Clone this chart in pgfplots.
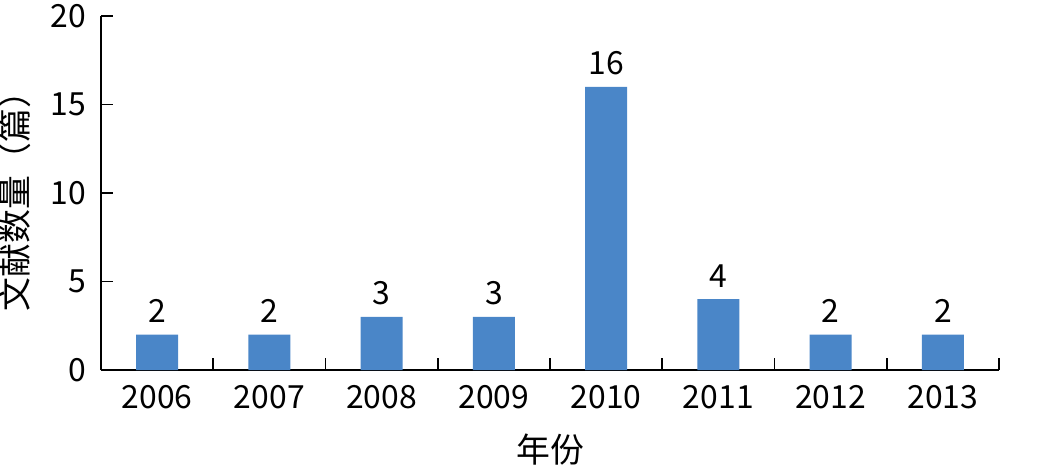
\documentclass[border=0pt]{standalone}
\usepackage{fontspec}
\setmainfont{Noto Sans CJK SC}
\usepackage{pgfplots}
\pgfplotsset{compat=1.18}
\definecolor{barblue}{HTML}{4A86C8}
\begin{document}
\begin{tikzpicture}
\begin{axis}[
  scale only axis,
  width=449bp, height=177bp,
  ybar, bar width=21bp,
  xmin=-0.5, xmax=7.5,
  ymin=0, ymax=20,
  ytick={0,5,10,15,20},
  xtick=data,
  xticklabels={2006,2007,2008,2009,2010,2011,2012,2013},
  major x tick style={draw=none},
  minor xtick={-0.5,0.5,...,7.5},
  minor tick length=6bp,
  major tick length=6bp,
  tick align=inside,
  axis x line*=bottom, axis y line*=left,
  axis line style={line width=0.9bp, black},
  tick style={line width=0.9bp, black},
  /pgf/number format/assume math mode=true,
  tick label style={font=\fontsize{16}{18}\selectfont},
  yticklabel style={xshift=-4bp},
  xticklabel style={yshift=-4bp},
  xlabel={年份}, ylabel={文献数量（篇）},
  label style={font=\fontsize{17}{19}\selectfont},
  xlabel style={yshift=-6bp},
  ylabel style={yshift=3bp},
  nodes near coords,
  every node near coord/.append style={font=\fontsize{16}{18}\selectfont, yshift=2.5bp},
  clip=false,
]
\addplot[fill=barblue, draw=none] coordinates {(0,2) (1,2) (2,3) (3,3) (4,16) (5,4) (6,2) (7,2)};
\coordinate (sw) at (rel axis cs:0,0);
\coordinate (ne) at (rel axis cs:1,1);
\end{axis}
\pgfresetboundingbox
\path ([shift={(-50.5bp,-50.5bp)}]sw) rectangle ([shift={(24bp,8bp)}]ne);
\end{tikzpicture}
\end{document}
